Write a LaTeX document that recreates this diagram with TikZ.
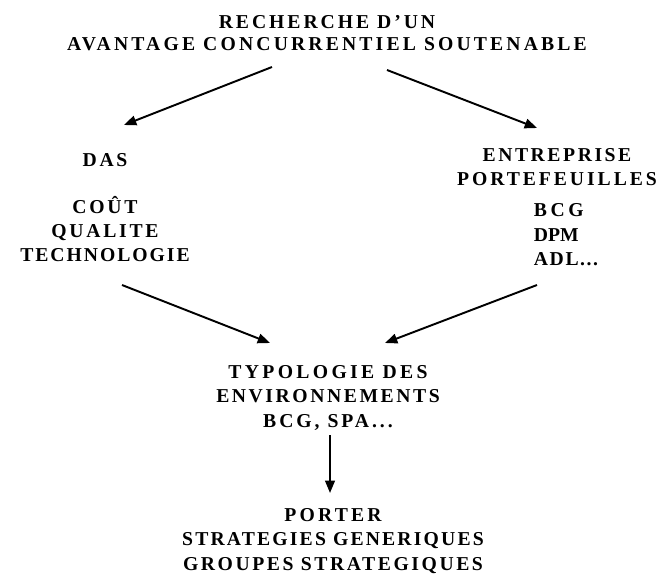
\documentclass[tikz,border=0pt]{standalone}
\usepackage{fontspec}
\setmainfont{Liberation Serif Bold}
\usetikzlibrary{arrows.meta}
\newcommand{\lsp}[2]{{\addfontfeature{LetterSpace=#1}#2}}

\begin{document}
\begin{tikzpicture}[x=0.02cm,y=-0.02cm,->,>={Triangle[length=7pt,width=5.5pt]},
	line width=1.1pt]
	\tikzset{every node/.style={font=\fontsize{11.2pt}{13.9pt}\selectfont,
		inner sep=0pt,align=center}}
	\useasboundingbox (0,0) rectangle (659,574);
	\node (T) at (327,33) {\lsp{15}{RECHERCHE D’UN}\\[-1.4pt]
		\lsp{16}{AVANTAGE CONCURRENTIEL SOUTENABLE}};
	\node (D) at (105,160) {\lsp{14}{DAS}};
	\node (Q) at (105,229) {\lsp{14}{COÛT}\\\lsp{14}{QUALITE}\\\lsp{10}{TECHNOLOGIE}};
	\node (E) at (557,167) {\lsp{13}{ENTREPRISE}\\\lsp{15}{PORTEFEUILLES}};
	\node[anchor=west,align=left] (M) at (533,235) {\lsp{18}{BCG}\\DPM\\\lsp{8}{ADL...}};
	\node (Y) at (328,398) {\lsp{17}{TYPOLOGIE DES}\\\lsp{13}{ENVIRONNEMENTS}\\\lsp{15}{BCG, SPA...}};
	\node (P) at (333,541) {\lsp{16}{PORTER}\\\lsp{11}{STRATEGIES GENERIQUES}\\\lsp{13}{GROUPES STRATEGIQUES}};
	
	% bouts des fleches
	\coordinate (T1) at (272,67);
	\coordinate (T2) at (387,70);
	\coordinate (D1) at (124,125);
	\coordinate (E1) at (537,128);
	\coordinate (Q1) at (122,285);
	\coordinate (M1) at (537,285);
	\coordinate (Y1) at (270,343);
	\coordinate (Y2) at (385,343);
	\coordinate (Y3) at (330,435);
	\coordinate (P1) at (330,493);
	
	\path
		(T1) edge (D1)
		(T2) edge (E1)
		(Q1) edge (Y1)
		(M1) edge (Y2)
		(Y3) edge (P1);
\end{tikzpicture}
\end{document}
